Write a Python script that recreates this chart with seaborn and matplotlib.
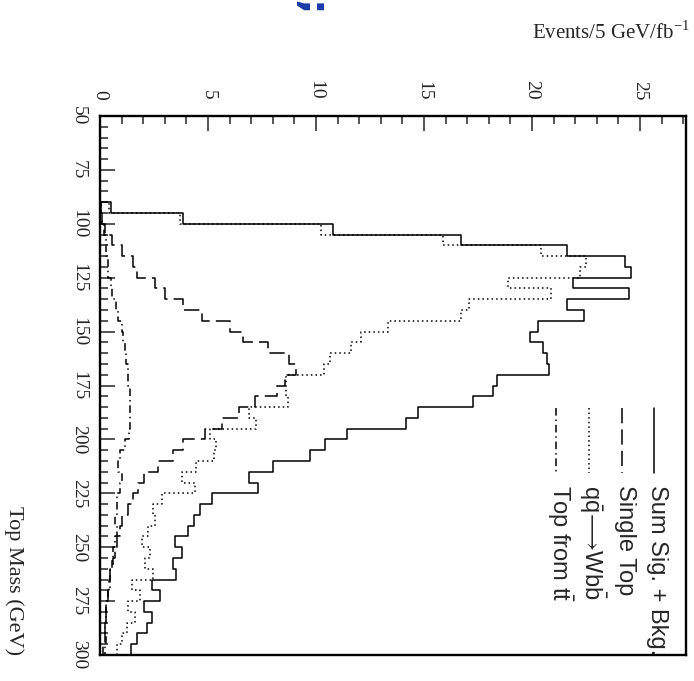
import numpy as np
import pandas as pd
import matplotlib
matplotlib.use("Agg")
import matplotlib.pyplot as plt
import seaborn as sns
from matplotlib.ticker import MultipleLocator

# Reconstructed top-quark mass spectrum, 5 GeV bins from 50 to 300 GeV
bin_edges = list(range(50, 305, 5))
mass = [e + 2.5 for e in bin_edges[:-1]]

sum_sig_bkg = [0, 0, 0, 0, 0, 0, 0, 0, 0.49, 3.86,
               10.8, 16.7, 21.6, 24.3, 24.6, 21.9, 24.5, 21.6, 22.4, 20.3,
               19.9, 20.5, 20.7, 20.8, 18.4, 18.2, 17.25, 14.7, 14.17, 11.45,
               10.4, 9.7, 8.0, 6.9, 7.3, 5.2, 4.64, 4.37, 4.06, 3.47,
               3.8, 3.4, 3.5, 2.42, 2.76, 2.05, 2.42, 2.16, 1.73, 1.44]
single_top = [0, 0, 0, 0, 0, 0, 0, 0, 0.05, 0.1,
              0.25, 0.54, 1.0, 1.54, 1.72, 2.56, 3.03, 3.86, 4.7, 6.0,
              6.6, 7.78, 8.75, 9.07, 8.56, 8.18, 7.18, 6.44, 5.63, 4.86,
              3.86, 3.4, 2.7, 2.05, 1.77, 1.54, 1.31, 1.03, 0.93, 0.77,
              0.7, 0.62, 0.46, 0.4, 0.37, 0.3, 0.3, 0.23, 0.23, 0.15]
qq_wbb = [0, 0, 0, 0, 0, 0, 0, 0, 0.4, 3.7,
          10.25, 15.9, 20.4, 22.5, 22.2, 18.9, 20.9, 17.1, 16.7, 13.35,
          12.1, 11.6, 10.65, 10.35, 8.6, 8.6, 8.7, 6.9, 7.2, 5.1,
          5.35, 5.3, 4.45, 3.8, 4.4, 2.85, 2.47, 2.55, 2.24, 1.93,
          2.3, 2.08, 2.47, 1.47, 1.85, 1.31, 1.62, 1.23, 1.0, 0.77]
top_from_tt = [0, 0, 0, 0, 0, 0, 0, 0, 0.05, 0.1,
               0.2, 0.27, 0.3, 0.38, 0.38, 0.5, 0.55, 0.75, 0.85, 1.0,
               1.08, 1.15, 1.2, 1.3, 1.31, 1.39, 1.39, 1.39, 1.39, 1.35,
               1.16, 0.93, 0.85, 1.0, 0.93, 0.77, 0.77, 0.7, 0.77, 0.7,
               0.62, 0.54, 0.46, 0.46, 0.37, 0.3, 0.3, 0.23, 0.3, 0.23]

series_labels = [
    "Sum Sig. + Bkg.",
    "Single Top",
    r"q$\mathsf{\bar{q}}\!\longrightarrow\!$Wb$\mathsf{\bar{b}}$",
    r"Top from t$\mathsf{\bar{t}}$",
]
mass_ticks = [50, 75, 100, 125, 150, 175, 200, 225, 250, 275, 300]
event_ticks = [0, 5, 10, 15, 20, 25]

sns.set_style("white")
plt.rcParams["font.family"] = ["Liberation Serif", "DejaVu Serif"]
plt.rcParams["mathtext.fontset"] = "custom"
plt.rcParams["mathtext.rm"] = "Liberation Serif"
plt.rcParams["mathtext.sf"] = "Liberation Sans"

W, H = 694, 681
fig = plt.figure(figsize=(W / 100, H / 100), dpi=100)
ax = fig.add_axes([100 / W, 26 / H, 586 / W, 539 / H])

line_styles = [
    "-",
    (0, (10, 4)),
    (0, (1, 2)),
    (0, (5, 2.5, 1, 2.5)),
]
all_series = [sum_sig_bkg, single_top, qq_wbb, top_from_tt]

for values, ls in zip(all_series, line_styles):
    df = pd.DataFrame({"mass": mass, "events": values})
    sns.histplot(data=df, y="mass", weights="events", bins=bin_edges,
                 element="step", fill=False, color="black", linestyle=ls,
                 linewidth=1.1, ax=ax)

ax.set_xlim(0, 27.13)
ax.set_ylim(300, 50)
ax.set_xlabel("")
ax.set_ylabel("")

# Events axis runs along the top, mass axis down the left side
ax.xaxis.set_ticks_position("top")
ax.set_xticks(event_ticks)
ax.set_yticks(mass_ticks)
ax.xaxis.set_minor_locator(MultipleLocator(1))
ax.yaxis.set_minor_locator(MultipleLocator(5))

ax.tick_params(axis="x", which="both", direction="in", top=True, bottom=False,
               labeltop=True, labelbottom=False, labelrotation=-90,
               labelsize=14, pad=11.5)
ax.tick_params(axis="y", which="both", direction="in", left=True, right=False,
               labelrotation=-90, labelsize=14, pad=9.5)
ax.tick_params(which="major", length=10.8, width=1.1)
ax.tick_params(which="minor", length=5.5, width=1.1)
for lbl in ax.get_yticklabels():
    lbl.set_va("center")

for sp in ax.spines.values():
    sp.set_linewidth(1.7)
    sp.set_color("black")

# Legend drawn as rotated entries inside the frame
legend_x = [0.9454, 0.8903, 0.835, 0.779]
for lx, ls, label in zip(legend_x, line_styles, series_labels):
    ax.plot([lx, lx], [0.458, 0.338], transform=ax.transAxes, color="black",
            linestyle=ls, linewidth=1.1, clip_on=False)
    ax.text(lx + 0.005, 0.316, label, transform=ax.transAxes, rotation=-90,
            ha="center", va="top", fontsize=17,
            family=["Liberation Sans", "DejaVu Sans"])

ax.text(-0.1468, 0.0, "Top Mass (GeV)", transform=ax.transAxes,
        rotation=-90, ha="center", va="bottom", fontsize=16)
fig.text(690 / W, (H - 39) / H, r"Events/5 GeV/fb$^{\mathrm{-1}}$",
         ha="right", va="baseline", fontsize=15)

fig.text(311 / W, (H - 8) / H, ";", color="#1a3aa6", fontsize=28,
         fontweight="bold", rotation=-90, ha="center", va="center",
         family=["DejaVu Sans"])

fig.savefig("out.png", dpi=100, facecolor="white")
